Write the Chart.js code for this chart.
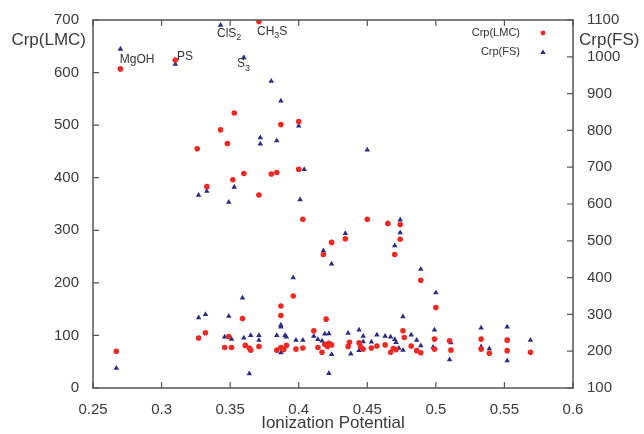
<!DOCTYPE html>
<html>
<head>
<meta charset="utf-8">
<script src="https://cdn.jsdelivr.net/npm/chart.js@4.4.1/dist/chart.umd.min.js"></script>
<style>
  body { margin: 0; background: #fff; }
  #wrap { width: 644px; height: 434px; }
</style>
</head>
<body>
<div id="wrap"><canvas id="chart" width="644" height="434"></canvas></div>
<script>
// [ionization potential, Crp(LMC)]
const lmcPoints = [
  [0.270, 607], [0.310, 624], [0.371, 697], [0.353, 523], [0.387, 501], [0.400, 507],
  [0.343, 491], [0.348, 465], [0.326, 455], [0.360, 408], [0.380, 407], [0.384, 410],
  [0.400, 416], [0.352, 396], [0.333, 383], [0.371, 367], [0.403, 321], [0.450, 321],
  [0.465, 313], [0.474, 311], [0.474, 283], [0.470, 254], [0.434, 284], [0.424, 277],
  [0.418, 254], [0.396, 175], [0.489, 205], [0.500, 153], [0.387, 156], [0.387, 138],
  [0.359, 132], [0.420, 131], [0.267, 70],
  [0.327, 95], [0.332, 105], [0.349, 98], [0.346, 77], [0.351, 77], [0.361, 81],
  [0.364, 76], [0.365, 72], [0.371, 79], [0.384, 72], [0.387, 77], [0.389, 73],
  [0.391, 81], [0.398, 74], [0.403, 76], [0.411, 109], [0.414, 77], [0.417, 68],
  [0.419, 83], [0.422, 85], [0.424, 82], [0.421, 79], [0.437, 87], [0.436, 79],
  [0.444, 86], [0.445, 79], [0.447, 74], [0.457, 80], [0.453, 76], [0.463, 82],
  [0.467, 68], [0.469, 75], [0.471, 73], [0.476, 109], [0.477, 96], [0.482, 80],
  [0.486, 71], [0.489, 67], [0.499, 93], [0.499, 74], [0.510, 90], [0.511, 72],
  [0.533, 93], [0.533, 74], [0.539, 66], [0.552, 91], [0.552, 71], [0.569, 68]
];

// [ionization potential, Crp(FS)]
const fsPoints = [
  [0.270, 1021], [0.310, 980], [0.343, 1086], [0.360, 998], [0.380, 934], [0.387, 880],
  [0.400, 812], [0.372, 780], [0.372, 763], [0.384, 772], [0.404, 694], [0.353, 646],
  [0.333, 635], [0.327, 624], [0.349, 605], [0.401, 612], [0.450, 747], [0.465, 548],
  [0.474, 557], [0.474, 522], [0.470, 487], [0.434, 520], [0.418, 473], [0.424, 437],
  [0.396, 400], [0.489, 423], [0.500, 359], [0.359, 345], [0.476, 294], [0.387, 271],
  [0.387, 266], [0.327, 291], [0.332, 300], [0.349, 295], [0.346, 239], [0.351, 233],
  [0.360, 236], [0.365, 243], [0.364, 139], [0.371, 243], [0.371, 230], [0.384, 243],
  [0.387, 196], [0.390, 243], [0.391, 239], [0.398, 230], [0.403, 230], [0.411, 241],
  [0.414, 232], [0.417, 228], [0.419, 247], [0.422, 248], [0.424, 191], [0.422, 140],
  [0.436, 249], [0.444, 258], [0.438, 193], [0.447, 241], [0.447, 226], [0.444, 202],
  [0.457, 244], [0.453, 225], [0.463, 241], [0.467, 239], [0.470, 232], [0.471, 224],
  [0.473, 208], [0.476, 203], [0.482, 244], [0.486, 230], [0.489, 215], [0.499, 258],
  [0.498, 211], [0.511, 223], [0.510, 177], [0.533, 263], [0.533, 212], [0.539, 207],
  [0.552, 266], [0.552, 174], [0.569, 230], [0.267, 154]
];

const xTicks = [0.25, 0.3, 0.35, 0.4, 0.45, 0.5, 0.55, 0.6];
const lmcTicks = [0, 100, 200, 300, 400, 500, 600, 700];
const fsTicks = [100, 200, 300, 400, 500, 600, 700, 800, 900, 1000, 1100];

// species names next to points, placed in (x, Crp(LMC)) units; [text, subscript?]
const speciesLabels = [
  { parts: [["MgOH", false]], x: 0.2695, y: 624 },
  { parts: [["PS", false]], x: 0.3113, y: 630 },
  { parts: [["ClS", false], ["2", true]], x: 0.3404, y: 674 },
  { parts: [["CH", false], ["3", true], ["S", false]], x: 0.3696, y: 678 },
  { parts: [["S", false], ["3", true]], x: 0.3550, y: 616 }
];

const FONT = "'Liberation Sans', Arial, Helvetica, sans-serif";
const TEXT = "#3a3a3a";
const AXIS = "#555555";
const RED = "#ee2a24";
const NAVY = "#2c2c84";

function drawParts(ctx, parts, x, y, size) {
  let cx = x;
  for (const [t, sub] of parts) {
    ctx.font = (sub ? size * 0.75 : size) + "px " + FONT;
    ctx.fillText(t, cx, sub ? y + size * 0.35 : y);
    cx += ctx.measureText(t).width;
  }
}

const framePlugin = {
  id: "frame",
  afterDatasetsDraw(chart) {
    const { ctx, chartArea: a, scales } = chart;
    const tick = 6;
    ctx.save();
    ctx.strokeStyle = AXIS;
    ctx.lineWidth = 1.5;
    ctx.strokeRect(a.left, a.top, a.right - a.left, a.bottom - a.top);

    ctx.lineWidth = 1.2;
    ctx.beginPath();
    xTicks.forEach(v => {
      const px = scales.x.getPixelForValue(v);
      ctx.moveTo(px, a.bottom); ctx.lineTo(px, a.bottom - tick);
      ctx.moveTo(px, a.top); ctx.lineTo(px, a.top + tick);
    });
    lmcTicks.forEach(v => {
      const py = scales.y.getPixelForValue(v);
      ctx.moveTo(a.left, py); ctx.lineTo(a.left + tick, py);
    });
    fsTicks.forEach(v => {
      const py = scales.y1.getPixelForValue(v);
      ctx.moveTo(a.right, py); ctx.lineTo(a.right - tick, py);
    });
    ctx.stroke();

    // axis titles
    ctx.fillStyle = TEXT;
    ctx.textBaseline = "middle";
    ctx.font = "17px " + FONT;
    ctx.textAlign = "right";
    ctx.fillText("Crp(LMC)", a.left - 7, a.top + 20);
    ctx.textAlign = "left";
    ctx.fillText("Crp(FS)", a.right + 6, a.top + 20);
    ctx.textAlign = "center";
    ctx.fillText("Ionization Potential", (a.left + a.right) / 2, a.bottom + 35);

    // species labels
    ctx.textAlign = "left";
    ctx.fillStyle = "#333";
    speciesLabels.forEach(l => {
      drawParts(ctx, l.parts, scales.x.getPixelForValue(l.x), scales.y.getPixelForValue(l.y), 12);
    });

    // legend
    const mx = a.right - 30;
    const tx = a.right - 53;
    ctx.font = "11px " + FONT;
    ctx.textAlign = "right";
    ctx.fillText("Crp(LMC)", tx, a.top + 13);
    ctx.fillText("Crp(FS)", tx, a.top + 32);
    ctx.fillStyle = RED;
    ctx.beginPath(); ctx.arc(mx, a.top + 13, 2.4, 0, Math.PI * 2); ctx.fill();
    ctx.fillStyle = NAVY;
    ctx.beginPath();
    ctx.moveTo(mx, a.top + 29.5); ctx.lineTo(mx + 2.8, a.top + 34); ctx.lineTo(mx - 2.8, a.top + 34);
    ctx.closePath(); ctx.fill();
    ctx.restore();
  }
};

const tickFont = { family: FONT, size: 15 };
const plain = v => String(v);

new Chart(document.getElementById("chart"), {
  type: "scatter",
  data: {
    datasets: [
      {
        label: "Crp(LMC)",
        data: lmcPoints.map(p => ({ x: p[0], y: p[1] })),
        yAxisID: "y",
        pointStyle: "circle",
        pointRadius: 2.8,
        backgroundColor: RED,
        borderColor: RED,
        borderWidth: 0
      },
      {
        label: "Crp(FS)",
        data: fsPoints.map(p => ({ x: p[0], y: p[1] })),
        yAxisID: "y1",
        pointStyle: "triangle",
        pointRadius: 3.2,
        backgroundColor: NAVY,
        borderColor: NAVY,
        borderWidth: 0
      }
    ]
  },
  options: {
    responsive: false,
    animation: false,
    devicePixelRatio: 1,
    layout: { padding: { top: 20, left: 0, right: 0, bottom: 0 } },
    plugins: {
      legend: { display: false },
      tooltip: { enabled: false }
    },
    scales: {
      x: {
        type: "linear",
        min: 0.25,
        max: 0.6,
        grid: { display: false },
        border: { display: false },
        afterBuildTicks: s => { s.ticks = xTicks.map(v => ({ value: v })); },
        afterFit: s => { s.height = 46; },
        ticks: {
          autoSkip: false,
          maxRotation: 0,
          padding: 5,
          color: TEXT,
          font: tickFont,
          callback: v => String(Number(v.toFixed(2)))
        }
      },
      y: {
        position: "left",
        min: 0,
        max: 700,
        grid: { display: false },
        border: { display: false },
        afterBuildTicks: s => { s.ticks = lmcTicks.map(v => ({ value: v })); },
        afterFit: s => { s.width = 93; },
        ticks: { padding: 6, color: TEXT, font: tickFont, callback: plain }
      },
      y1: {
        position: "right",
        min: 100,
        max: 1100,
        grid: { display: false },
        border: { display: false },
        afterBuildTicks: s => { s.ticks = fsTicks.map(v => ({ value: v })); },
        afterFit: s => { s.width = 71; },
        ticks: { padding: 6, color: TEXT, font: tickFont, callback: plain }
      }
    }
  },
  plugins: [framePlugin]
});
</script>
</body>
</html>
